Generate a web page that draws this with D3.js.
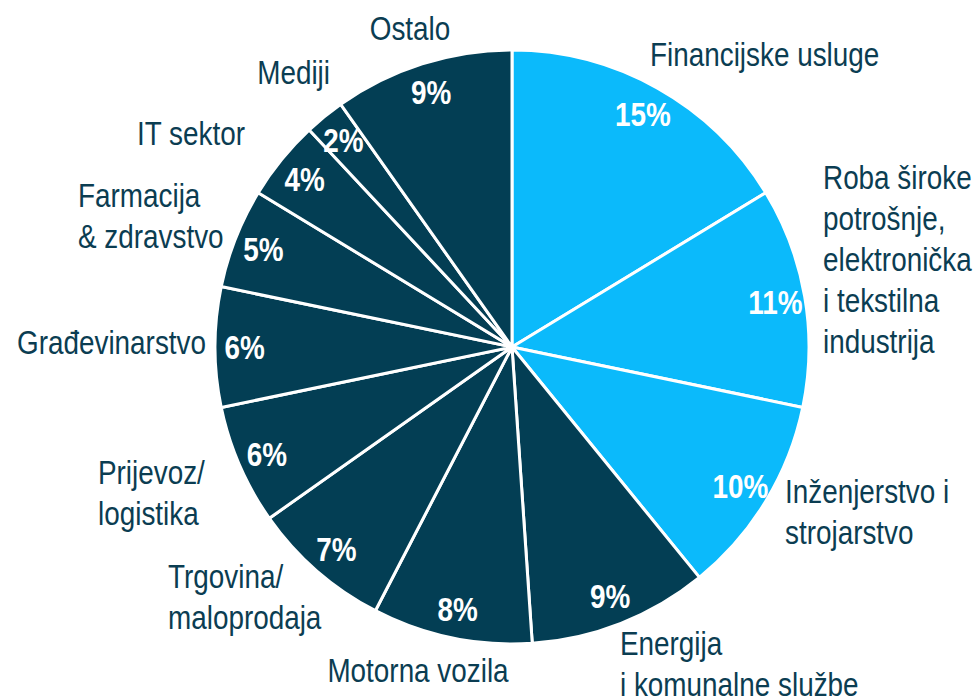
<!DOCTYPE html>
<html>
<head>
<meta charset="utf-8">
<script src="https://cdn.jsdelivr.net/npm/d3@7"></script>
<style>
  html, body { margin: 0; padding: 0; background: #fff; }
  svg text { font-family: "Liberation Sans", Arial, sans-serif; }
</style>
</head>
<body>
<div id="root"></div>
<script>
// sectors, clockwise from 12 o'clock
const sectors = ['Financijske usluge', 'Roba široke potrošnje, elektronička i tekstilna industrija',
  'Inženjerstvo i strojarstvo', 'Energija i komunalne službe', 'Motorna vozila', 'Trgovina/maloprodaja',
  'Prijevoz/logistika', 'Građevinarstvo', 'Farmacija & zdravstvo', 'IT sektor', 'Mediji', 'Ostalo'];
const shares = [15, 11, 10, 9, 8, 7, 6, 6, 5, 4, 2, 9];
const highlighted = [true, true, true, false, false, false, false, false, false, false, false, false];
// outer label lines as printed
const labelLines = [
  ['Financijske usluge'],
  ['Roba široke', 'potrošnje,', 'elektronička', 'i tekstilna', 'industrija'],
  ['Inženjerstvo i', 'strojarstvo'],
  ['Energija', 'i komunalne službe'],
  ['Motorna vozila'],
  ['Trgovina/', 'maloprodaja'],
  ['Prijevoz/', 'logistika'],
  ['Građevinarstvo'],
  ['Farmacija', '& zdravstvo'],
  ['IT sektor'],
  ['Mediji'],
  ['Ostalo']
];

const width = 977, height = 700;
const cx = 512, cy = 347, radius = 297;
const lightBlue = '#0bbafb', darkBlue = '#033e54', textColor = '#0b3d52';
const lineH = 41;
const narrow = 0.82; // no narrow font installed -> squeeze horizontally

// label anchor: [x, first baseline, text-anchor]
const labelPos = [
  [650, 66, 'start'],
  [823, 189, 'start'],
  [785, 503, 'start'],
  [620, 655, 'start'],
  [418, 682, 'middle'],
  [168, 588, 'start'],
  [98, 484, 'start'],
  [206, 354, 'end'],
  [78, 207, 'start'],
  [245, 145, 'end'],
  [330, 84, 'end'],
  [410, 40, 'middle']
];

const svg = d3.select('#root').append('svg')
  .attr('width', width)
  .attr('height', height);

const pie = d3.pie().sort(null).value(d => d);
const arcs = pie(shares);

const arc = d3.arc().innerRadius(0).outerRadius(radius);
const labelArc = d3.arc().innerRadius(radius * 0.9).outerRadius(radius * 0.9);

const g = svg.append('g').attr('transform', `translate(${cx},${cy})`);

g.selectAll('path')
  .data(arcs).enter()
  .append('path')
  .attr('d', arc)
  .attr('fill', (d, i) => highlighted[i] ? lightBlue : darkBlue)
  .attr('stroke', '#fff')
  .attr('stroke-width', 3)
  .attr('stroke-linejoin', 'round');

g.selectAll('g.pct')
  .data(arcs).enter()
  .append('g')
  .attr('class', 'pct')
  .attr('transform', d => `translate(${labelArc.centroid(d)}) scale(${narrow},1)`)
  .append('text')
  .attr('text-anchor', 'middle')
  .attr('dy', '0.36em')
  .attr('fill', '#fff')
  .style('font-size', '34px')
  .style('font-weight', 700)
  .text(d => `${d.data}%`);

const labels = svg.selectAll('g.sector')
  .data(labelLines).enter()
  .append('g')
  .attr('class', 'sector')
  .attr('transform', (d, i) => `translate(${labelPos[i][0]},${labelPos[i][1]}) scale(${narrow},1)`)
  .append('text')
  .attr('fill', textColor)
  .attr('text-anchor', (d, i) => labelPos[i][2])
  .style('font-size', '34px');

labels.selectAll('tspan')
  .data(d => d)
  .enter()
  .append('tspan')
  .attr('x', 0)
  .attr('y', (d, j) => j * lineH)
  .text(d => d);
</script>
</body>
</html>
